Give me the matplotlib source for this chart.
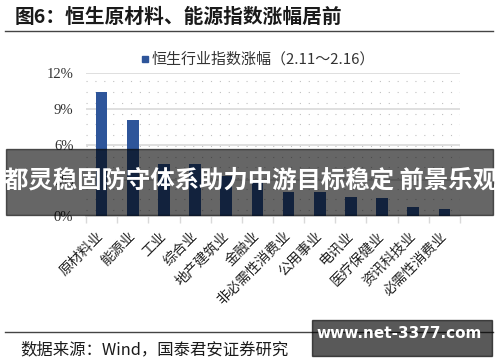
import numpy as np
import matplotlib.pyplot as plt
from matplotlib.patches import Rectangle

plt.rcParams['font.family'] = ['Noto Sans CJK SC', 'DejaVu Sans']

categories = ['原材料业', '能源业', '工业', '综合业', '地产建筑业', '金融业',
              '非必需性消费业', '公用事业', '电讯业', '医疗保健业', '资讯科技业', '必需性消费业']
values = [10.4, 8.1, 4.4, 4.4, 3.4, 2.9, 2.0, 2.0, 1.6, 1.5, 0.8, 0.6]
yticks = [0, 3, 6, 9, 12]
legend_label = '恒生行业指数涨幅（2.11～2.16）'
title = '图6：恒生原材料、能源指数涨幅居前'
source = '数据来源：Wind，国泰君安证券研究'
banner = '都灵稳固防守体系助力中游目标稳定 前景乐观'
watermark = 'www.net-3377.com'

fig = plt.figure(figsize=(5, 3.62), dpi=100)
ax = fig.add_axes([0.172, 0.403, 0.748, 0.395])

x = np.arange(len(categories))
ax.bar(x, values, width=0.37, color='#2E559A', zorder=3)

ax.set_xlim(-0.5, len(categories) - 0.5)
ax.set_ylim(0, 12)
ax.set_yticks(yticks)
ax.set_yticklabels([f'{v}%' for v in yticks], family='Liberation Serif', fontsize=10.5, color='#333333')
ax.yaxis.grid(True, color='#d9d9d9', lw=1.2, zorder=1)
# dotted background pattern
for yy in np.arange(0.5, 12, 0.9):
    ax.axhline(yy, color='#c0c0c0', lw=0.8, ls=(0, (1, 7)), zorder=0)
ax.tick_params(axis='y', length=0, pad=9)

ax.set_xticks(x)
ax.set_xticklabels(categories, rotation=45, ha='right', va='center', rotation_mode='anchor',
                   fontsize=10, color='#222222')
ax.set_xticks(np.arange(-0.5, len(categories)), minor=True)
ax.tick_params(axis='x', which='major', length=0, pad=13)
ax.tick_params(axis='x', which='minor', length=5, color='#d9d9d9', width=1)
for s in ['top', 'right', 'left']:
    ax.spines[s].set_visible(False)
ax.spines['bottom'].set_color('#d9d9d9')
ax.spines['bottom'].set_linewidth(1.2)

# legend
fig.patches.append(Rectangle((142 / 500, 1 - 62 / 362), 6 / 500, 6 / 362,
                             transform=fig.transFigure, color='#2E559A'))
fig.text(152 / 500, 1 - 59 / 362, legend_label, fontsize=10.8, va='center', color='#333333')

# title and rules
fig.text(15 / 500, 1 - 17 / 362, title, fontsize=14.2, fontweight='bold', va='center', color='#1a1a1a')
fig.add_artist(plt.Line2D([5 / 500, 493 / 500], [1 - 30.5 / 362] * 2, color='#444444', lw=1))
fig.add_artist(plt.Line2D([5 / 500, 493 / 500], [1 - 332 / 362] * 2, color='#444444', lw=1))
fig.text(20 / 500, 1 - 350 / 362, source, fontsize=11.8, va='center', color='#1a1a1a')

# overlay banner
fig.patches.append(Rectangle((6 / 500, 1 - 215 / 362), 487 / 500, 66 / 362,
                             transform=fig.transFigure, color='black', alpha=0.6, zorder=10))
fig.text(250 / 500, 1 - 181 / 362, banner, fontsize=17.6, fontweight='bold', color='white',
         ha='center', va='center', zorder=11)

# watermark box
fig.patches.append(Rectangle((312 / 500, 1 - 356 / 362), 180 / 500, 36 / 362,
                             transform=fig.transFigure, color='black', alpha=0.65, zorder=10))
fig.text(399 / 500, 1 - 334 / 362, watermark, fontsize=11, fontweight='bold', color='white',
         ha='center', va='center', family='DejaVu Sans', zorder=11)

fig.savefig('out.png', dpi=100)
